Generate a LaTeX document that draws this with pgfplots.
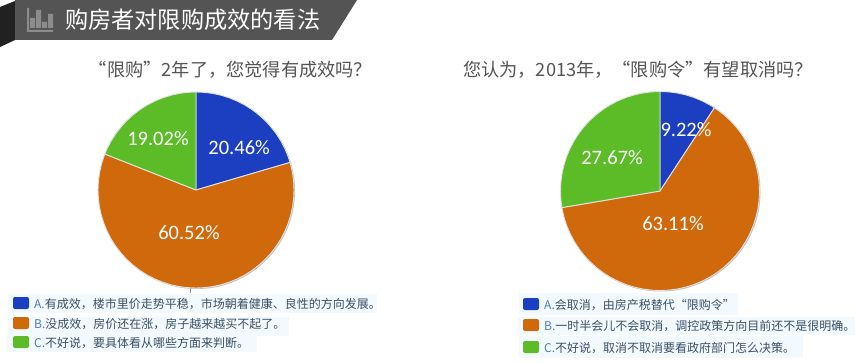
\documentclass[border=0pt]{standalone}
\usepackage{fontspec}
\usepackage{pgfplots}
\pgfplotsset{compat=1.18}
\usepgfplotslibrary{polar}
\setmainfont{Noto Sans CJK SC}
\newfontfamily\pct{Carlito}
\definecolor{cA}{HTML}{1C3FC2}
\definecolor{cB}{HTML}{D0690C}
\definecolor{cC}{HTML}{5BBC27}
\definecolor{lbg}{HTML}{F3FAFF}
\definecolor{ltx}{HTML}{3A4F66}
\definecolor{labc}{HTML}{4F7DB5}
\definecolor{edge}{HTML}{E2E2E2}
\newcommand{\fs}[1]{\fontsize{#1}{#1}\selectfont}
\newcommand{\legrow}[8]{% bgx1 bgy1 bgx2 bgy2 swatchx swatchy color text
  \fill[lbg] (#1,#2) rectangle (#3,#4);
  \fill[#7,rounded corners=2pt] (#5,#6) rectangle ++(16,12);
  \node[anchor=west,inner sep=0pt,text=ltx,font=\fs{12}] at (#5+21,#6+7.5) {#8};
}
\pgfplotsset{pie/.style={scale only axis,axis lines=none,xmin=0,xmax=360,ymin=0,clip=false,anchor=center}}
\tikzset{wedge/.style={draw=edge,line width=0.9pt,fill=#1,line join=round},
 plabel/.style={text=white,font=\pct\fs{20.5},inner sep=0pt,yshift=-0.5pt}}
\begin{document}
\begin{tikzpicture}
\path[use as bounding box] (0,0) rectangle (860pt,362pt);
\begin{scope}[x=1pt,y=-1pt,shift={(0,362pt)}]
\fill[white] (0,0) rectangle (860,362);
% header
\fill[black!87] (0,7) -- (15,1) -- (15,40) -- (0,47) -- cycle;
\fill[black!67] (15,0) -- (357,0) -- (332,40) -- (15,40) -- cycle;
\fill[black!45] (27,8) rectangle (29,32) (27,30) rectangle (53,32);
\fill[black!45] (30,18) rectangle (35,28) (36,10) rectangle (41,28) (42,22) rectangle (47,28) (48,14) rectangle (53,28);
\node[anchor=west,inner sep=0pt,text=white,font=\fs{23.2}] at (65,20) {购房者对限购成效的看法};
% subtitles
\node[inner sep=0pt,text=black!67,font=\fs{18.2}] at (230.5,70) {“限购”2年了，您觉得有成效吗？};
\node[inner sep=0pt,text=black!67,font=\fs{18.2}] at (638,70) {您认为，2013年，“限购令”有望取消吗？};
% pie shadows
\fill[black!25] (196.8,190.8) circle (98.2);
\draw[black!45,line width=0.8pt] (190.5,289) -- (190.5,293);
\fill[black!25] (660.8,191.8) circle (99.7);
% legends
\legrow{8}{294}{377}{313}{13}{297}{cA}{\textcolor{labc}{A.}有成效，楼市里价走势平稳，市场朝着健康、良性的方向发展。}
\legrow{8}{317}{289}{336}{13}{317}{cB}{\textcolor{labc}{B.}没成效，房价还在涨，房子越来越买不起了。}
\legrow{6}{336}{257}{352}{13}{336}{cC}{\textcolor{labc}{C.}不好说，要具体看从哪些方面来判断。}
\legrow{519}{293}{738}{315}{523}{298}{cA}{\textcolor{labc}{A.}会取消，由房产税替代“限购令”}
\legrow{518}{317}{855}{335}{523}{319}{cB}{\textcolor{labc}{B.}一时半会儿不会取消，调控政策方向目前还不是很明确。}
\legrow{519}{336}{803}{358}{523}{341}{cC}{\textcolor{labc}{C.}不好说，取消不取消要看政府部门怎么决策。}
\end{scope}
% left pie: 20.46, 60.52, 19.02
\begin{polaraxis}[pie,at={(196pt,172pt)},width=196pt,height=196pt,ymax=98]
\addplot[wedge=cA] coordinates {(0,0)(90,98)(85,98)(80,98)(75,98)(70,98)(65,98)(60,98)(55,98)(50,98)(45,98)(40,98)(35,98)(30,98)(25,98)(20,98)(16.34,98)} --cycle;
\addplot[wedge=cB] coordinates {(0,0)(16.34,98)(15,98)(10,98)(5,98)(0,98)(-5,98)(-10,98)(-15,98)(-20,98)(-25,98)(-30,98)(-35,98)(-40,98)(-45,98)(-50,98)(-55,98)(-60,98)(-65,98)(-70,98)(-75,98)(-80,98)(-85,98)(-90,98)(-95,98)(-100,98)(-105,98)(-110,98)(-115,98)(-120,98)(-125,98)(-130,98)(-135,98)(-140,98)(-145,98)(-150,98)(-155,98)(-160,98)(-165,98)(-170,98)(-175,98)(-180,98)(-185,98)(-190,98)(-195,98)(-200,98)(-201.53,98)} --cycle;
\addplot[wedge=cC] coordinates {(0,0)(158.47,98)(155,98)(150,98)(145,98)(140,98)(135,98)(130,98)(125,98)(120,98)(115,98)(110,98)(105,98)(100,98)(95,98)(90,98)} --cycle;
\node[plabel] at (axis cs:45,61) {20.46\%};
\node[plabel] at (axis cs:126.2,64.4) {19.02\%};
\node[plabel] at (axis cs:260.5,42.6) {60.52\%};
\end{polaraxis}
% right pie: 9.22, 63.11, 27.67
\begin{polaraxis}[pie,at={(660pt,171pt)},width=199pt,height=199pt,ymax=99.5]
\addplot[wedge=cA] coordinates {(0,0)(90,99.5)(85,99.5)(80,99.5)(75,99.5)(70,99.5)(65,99.5)(60,99.5)(56.81,99.5)} --cycle;
\addplot[wedge=cB] coordinates {(0,0)(56.81,99.5)(55,99.5)(50,99.5)(45,99.5)(40,99.5)(35,99.5)(30,99.5)(25,99.5)(20,99.5)(15,99.5)(10,99.5)(5,99.5)(0,99.5)(-5,99.5)(-10,99.5)(-15,99.5)(-20,99.5)(-25,99.5)(-30,99.5)(-35,99.5)(-40,99.5)(-45,99.5)(-50,99.5)(-55,99.5)(-60,99.5)(-65,99.5)(-70,99.5)(-75,99.5)(-80,99.5)(-85,99.5)(-90,99.5)(-95,99.5)(-100,99.5)(-105,99.5)(-110,99.5)(-115,99.5)(-120,99.5)(-125,99.5)(-130,99.5)(-135,99.5)(-140,99.5)(-145,99.5)(-150,99.5)(-155,99.5)(-160,99.5)(-165,99.5)(-170,99.5)(-170.39,99.5)} --cycle;
\addplot[wedge=cC] coordinates {(0,0)(189.61,99.5)(185,99.5)(180,99.5)(175,99.5)(170,99.5)(165,99.5)(160,99.5)(155,99.5)(150,99.5)(145,99.5)(140,99.5)(135,99.5)(130,99.5)(125,99.5)(120,99.5)(115,99.5)(110,99.5)(105,99.5)(100,99.5)(95,99.5)(90,99.5)} --cycle;
\node[plabel] at (axis cs:67.2,67.2) {9.22\%};
\node[plabel] at (axis cs:144.7,58.8) {27.67\%};
\node[plabel] at (axis cs:292.1,34.5) {63.11\%};
\end{polaraxis}
\end{tikzpicture}
\end{document}
